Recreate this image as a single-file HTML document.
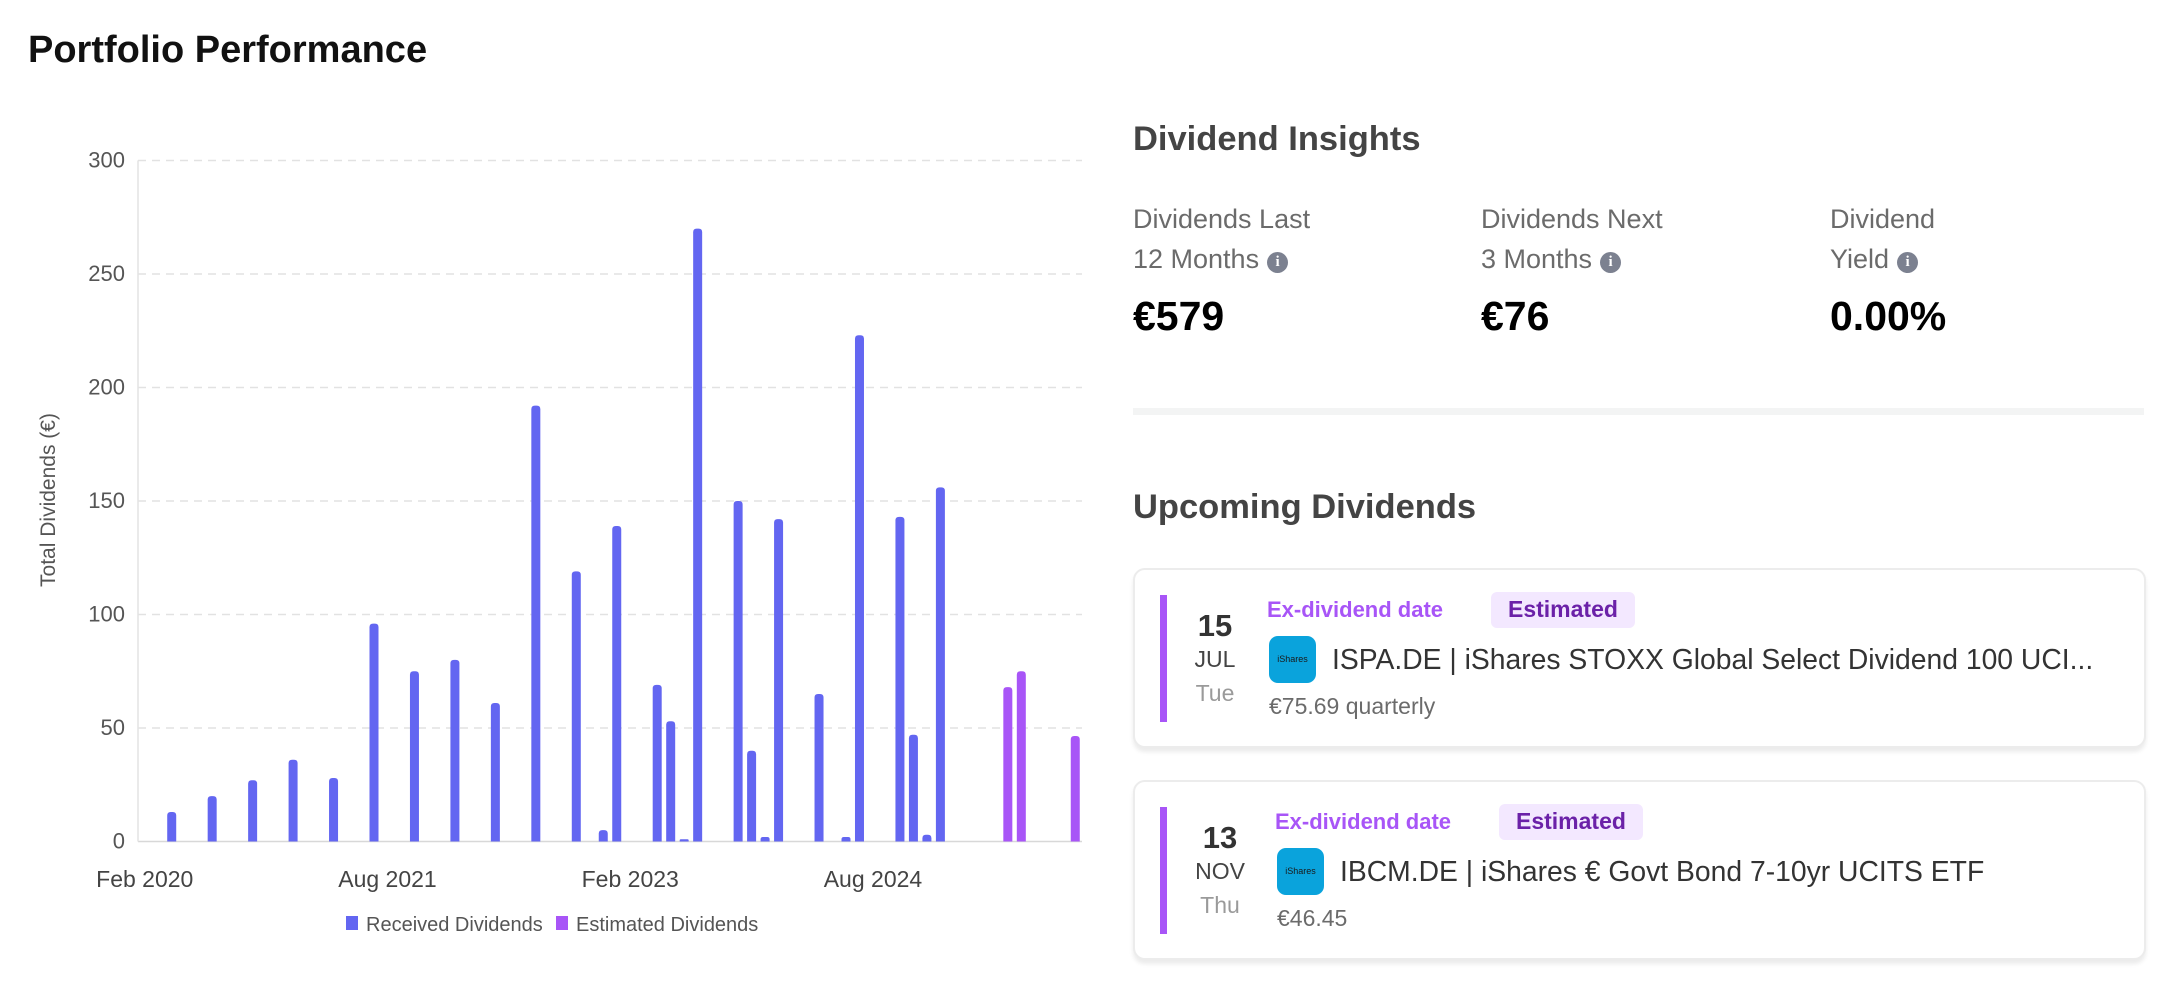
<!DOCTYPE html>
<html><head><meta charset="utf-8">
<style>
html,body{margin:0;padding:0;background:#fff;}
body{width:2170px;height:992px;position:relative;overflow:hidden;font-family:"Liberation Sans",sans-serif;}
.a{position:absolute;white-space:nowrap;line-height:1.2;}
.lbl{font-size:27px;color:#6b6b6b;}
.val{font-size:41px;font-weight:bold;color:#000;}
.info{display:inline-block;width:21px;height:21px;border-radius:50%;background:#7c8190;color:#fff;font-size:15px;font-weight:bold;text-align:center;line-height:21px;vertical-align:2px;margin-left:8px;font-family:"Liberation Serif",serif;}
.card{position:absolute;left:1133px;width:1009px;height:176px;border:2px solid #ececec;border-radius:12px;box-shadow:0 4px 4px rgba(0,0,0,0.08);background:#fff;}
.bar{position:absolute;left:25px;top:25px;width:7px;height:127px;background:#a855f7;}
.day{font-size:31px;font-weight:bold;color:#333;text-align:center;width:70px;}
.mon{font-size:23px;color:#444;text-align:center;width:70px;}
.wd{font-size:23px;color:#9a9a9a;text-align:center;width:70px;}
.ex{font-size:22px;font-weight:bold;color:#a855f7;}
.badge{background:#f3e8ff;color:#6b21a8;font-size:23px;font-weight:bold;border-radius:6px;padding:4px 17px;}
.logo{width:47px;height:47px;border-radius:9px;background:#0aa3dc;color:#1a1a1a;font-size:9px;text-align:center;line-height:47px;}
.name{font-size:28.3px;color:#333;}
.amt{font-size:23px;color:#6b6b6b;}
</style></head>
<body>
<div class="a" style="left:28px;top:28px;font-size:38px;font-weight:bold;color:#111;">Portfolio Performance</div>

<svg id="chart" width="1100" height="992" style="position:absolute;left:0;top:0;" xmlns="http://www.w3.org/2000/svg"></svg>

<div class="a" style="left:1133px;top:119px;font-size:34.5px;font-weight:bold;color:#444;">Dividend Insights</div>
<div class="a lbl" style="left:1133px;top:203px;">Dividends Last</div>
<div class="a lbl" style="left:1133px;top:243px;">12 Months<span class="info">i</span></div>
<div class="a val" style="left:1133px;top:292px;">€579</div>
<div class="a lbl" style="left:1481px;top:203px;">Dividends Next</div>
<div class="a lbl" style="left:1481px;top:243px;">3 Months<span class="info">i</span></div>
<div class="a val" style="left:1481px;top:292px;">€76</div>
<div class="a lbl" style="left:1830px;top:203px;">Dividend</div>
<div class="a lbl" style="left:1830px;top:243px;">Yield<span class="info">i</span></div>
<div class="a val" style="left:1830px;top:292px;">0.00%</div>
<div class="a" style="left:1133px;top:408px;width:1011px;height:7px;background:#f3f4f4;"></div>

<div class="a" style="left:1133px;top:487px;font-size:34.5px;font-weight:bold;color:#444;">Upcoming Dividends</div>

<div class="card" style="top:568px;">
  <div class="bar"></div>
  <div class="a day" style="left:45px;top:37px;">15</div>
  <div class="a mon" style="left:45px;top:76px;">JUL</div>
  <div class="a wd" style="left:45px;top:110px;">Tue</div>
  <div class="a ex" style="left:132px;top:27px;">Ex-dividend date</div>
  <div class="a badge" style="left:356px;top:22px;">Estimated</div>
  <div class="a logo" style="left:134px;top:66px;">iShares</div>
  <div class="a name" style="left:197px;top:73px;">ISPA.DE | iShares STOXX Global Select Dividend 100 UCI...</div>
  <div class="a amt" style="left:134px;top:123px;">€75.69 quarterly</div>
</div>

<div class="card" style="top:780px;">
  <div class="bar"></div>
  <div class="a day" style="left:50px;top:37px;">13</div>
  <div class="a mon" style="left:50px;top:76px;">NOV</div>
  <div class="a wd" style="left:50px;top:110px;">Thu</div>
  <div class="a ex" style="left:140px;top:27px;">Ex-dividend date</div>
  <div class="a badge" style="left:364px;top:22px;">Estimated</div>
  <div class="a logo" style="left:142px;top:66px;">iShares</div>
  <div class="a name" style="left:205px;top:73px;">IBCM.DE | iShares € Govt Bond 7-10yr UCITS ETF</div>
  <div class="a amt" style="left:142px;top:123px;">€46.45</div>
</div>

<script>
// month index 0 = Feb 2020, 69 = Nov 2025
const receivedMonths = [2,5,8,11,14,17,20,23,26,29,32,34,35,38,39,40,41,44,45,46,47,50,52,53,56,57,58,59];
const receivedValues = [13,20,27,36,28,96,75,80,61,192,119,5,139,69,53,1,270,150,40,2,142,65,2,223,143,47,3,156];
const estimatedMonths = [64,65,69];
const estimatedValues = [68,75,46.45];
const yTicks = [0,50,100,150,200,250,300];
const xTickMonths = [0,18,36,54];
const xTickLabels = ["Feb 2020","Aug 2021","Feb 2023","Aug 2024"];
const monthCount = 70;

const svg = document.getElementById('chart');
const NS = 'http://www.w3.org/2000/svg';
const L = 138, R = 1082, T = 160.5, B = 841.5, YMAX = 300;
const band = (R - L) / monthCount;
const xs = m => L + band * (m + 0.5);
const ys = v => B - (v / YMAX) * (B - T);
function mk(tag, attrs){ const e = document.createElementNS(NS, tag); for (const k in attrs) e.setAttribute(k, attrs[k]); svg.appendChild(e); return e; }

yTicks.forEach(t => {
  const g = mk('line', {x1:L, x2:R, y1:ys(t), y2:ys(t), stroke: t===0 ? '#d8d8d8' : '#e2e2e2', 'stroke-width':1.5, 'stroke-dasharray': t===0 ? '' : '8 6'});
  
  
  const tx = mk('text', {x:L-13, y:ys(t)+7, 'text-anchor':'end', 'font-size':22, fill:'#555', 'font-family':'Liberation Sans, sans-serif'});
  tx.textContent = t;
  
  
});
const ax = mk('line', {x1:L, x2:L, y1:T, y2:B, stroke:'#e3e3e3', 'stroke-width':1.5});



xTickMonths.forEach((m, i) => {
  const tx = mk('text', {x:xs(m), y:887, 'text-anchor':'middle', 'font-size':23, fill:'#444', 'font-family':'Liberation Sans, sans-serif'});
  tx.textContent = xTickLabels[i];
  
  
});

const yt = mk('text', {x:0, y:0, transform:'translate(55,500) rotate(-90)', 'text-anchor':'middle', 'font-size':21, fill:'#555', 'font-family':'Liberation Sans, sans-serif'});
yt.textContent = 'Total Dividends (€)';



function drawBar(m, v, color){
  const w = 9, x = xs(m) - w/2, y = ys(v), h = B - y;
  const r = Math.min(3.5, h/2);
  const p = mk('path', {d:`M${x},${B} L${x},${y+r} Q${x},${y} ${x+r},${y} L${x+w-r},${y} Q${x+w},${y} ${x+w},${y+r} L${x+w},${B} Z`, fill:color});
  return p;
}
receivedMonths.forEach((m, i) => {
  const b = drawBar(m, receivedValues[i], '#6366f1');
  
  
});
estimatedMonths.forEach((m, i) => {
  const b = drawBar(m, estimatedValues[i], '#a855f7');
  
  
});

const legend = [['Received Dividends','#6366f1',346],['Estimated Dividends','#a855f7',556]];
legend.forEach(([label, c, x]) => {
  const s = mk('rect', {x:x, y:916, width:12, height:14, fill:c});
  
  
  const t = mk('text', {x:x+20, y:931, 'font-size':20, fill:'#555', 'font-family':'Liberation Sans, sans-serif'});
  t.textContent = label;
  
  
});
</script>
</body></html>
